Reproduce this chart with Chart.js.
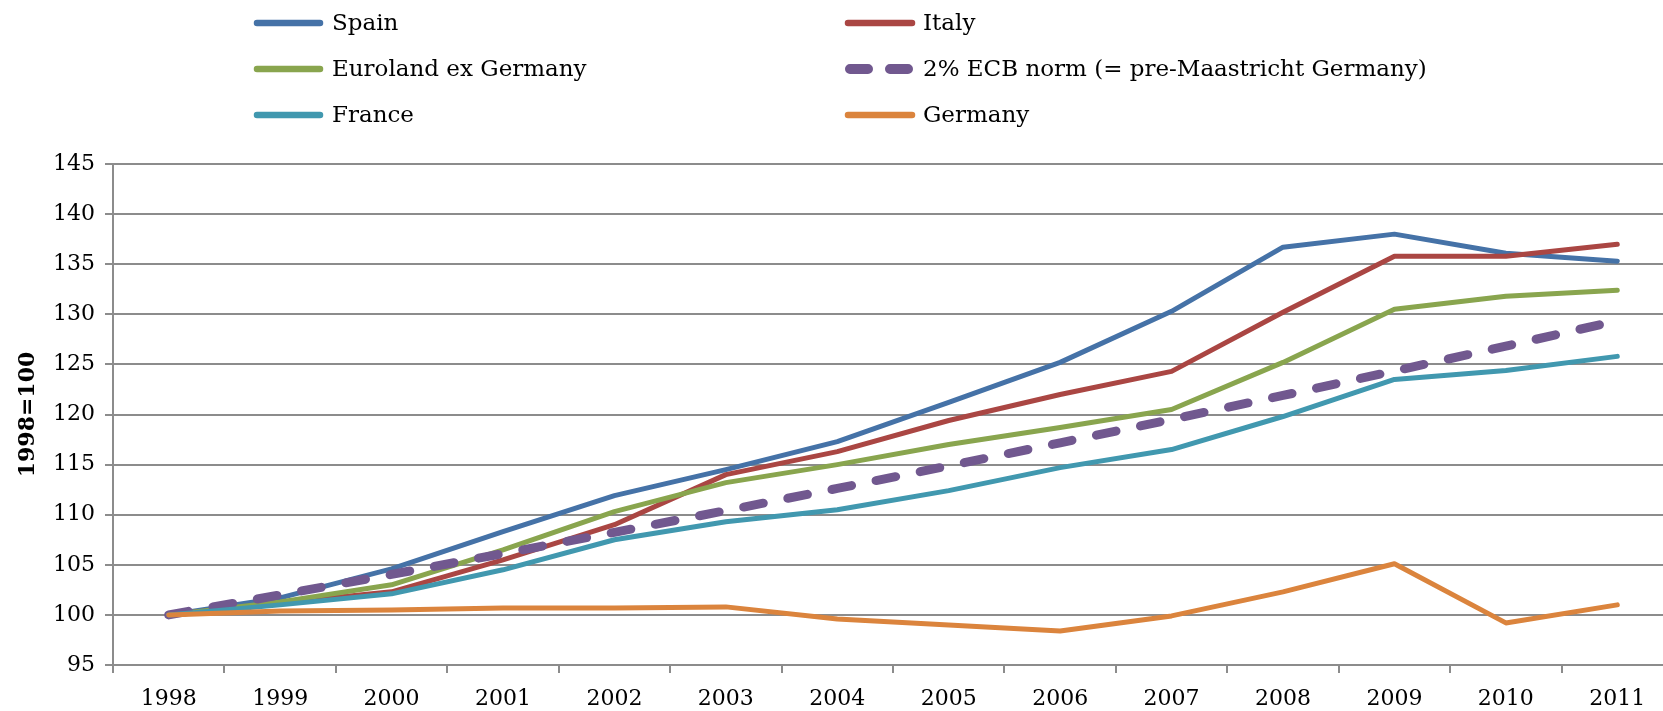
<!DOCTYPE html>
<html>
<head>
<meta charset="utf-8">
<script src="https://cdn.jsdelivr.net/npm/chart.js@4.4.1/dist/chart.umd.min.js"></script>
<style>
html, body { margin: 0; padding: 0; background: #fff; overflow: hidden; }
#wrap { width: 1680px; height: 711px; }
</style>
</head>
<body>
<div id="wrap"><canvas id="chartCanvas" width="1680" height="711"></canvas></div>
<script>
var years = ['1998','1999','2000','2001','2002','2003','2004','2005','2006','2007','2008','2009','2010','2011'];

var spain    = [100, 101.7, 104.6, 108.3, 111.9, 114.5, 117.3, 121.2, 125.2, 130.3, 136.7, 138.0, 136.1, 135.3];
var italy    = [100, 101.2, 102.3, 105.5, 109.0, 114.0, 116.3, 119.4, 122.0, 124.3, 130.2, 135.8, 135.8, 137.0];
var euroland = [100, 101.3, 103.0, 106.5, 110.3, 113.2, 115.0, 117.0, 118.7, 120.5, 125.2, 130.5, 131.8, 132.4];
var ecbNorm  = [100, 102.0, 104.04, 106.12, 108.24, 110.41, 112.62, 114.87, 117.17, 119.51, 121.9, 124.34, 126.82, 129.36];
var france   = [100, 101.0, 102.1, 104.5, 107.5, 109.3, 110.5, 112.4, 114.7, 116.5, 119.8, 123.5, 124.4, 125.8];
var germany  = [100, 100.4, 100.5, 100.7, 100.7, 100.8, 99.6, 99.0, 98.4, 99.9, 102.3, 105.1, 99.2, 101.0];

var seriesNames = ['Spain', 'Italy', 'Euroland ex Germany', '2% ECB norm (= pre-Maastricht Germany)', 'France', 'Germany'];
var seriesColors = ['#4572A7', '#AA4643', '#89A54E', '#71588F', '#4198AF', '#DB843D'];
var seriesData = [spain, italy, euroland, ecbNorm, france, germany];

var gridColor = '#8c8c8c';
var serif = "'DejaVu Serif', serif";

function makeDatasets(){
	return seriesData.map(function(vals, i){
		var dashed = (i === 3);
		return {
			label: seriesNames[i],
			data: vals,
			borderColor: seriesColors[i],
			backgroundColor: seriesColors[i],
			borderWidth: dashed ? 9 : 5,
			borderDash: dashed ? [20, 25] : [],
			borderCapStyle: 'round',
			borderJoinStyle: 'round',
			pointRadius: 0,
			tension: 0,
			fill: false,
			order: seriesData.length - i   // later series painted on top
		};
	});
}

// two-column legend above the plot
var legendPlugin = {
	id: 'twoColLegend',
	afterDraw: function(chart){
		var ctx = chart.ctx;
		var cols = [{sx: 254, ex: 323, tx: 332}, {sx: 845, ex: 915, tx: 923}];
		var rows = [23, 69, 115];
		ctx.save();
		chart.data.datasets.forEach(function(ds, i){
			var c = cols[i % 2], y = rows[Math.floor(i / 2)];
			ctx.strokeStyle = ds.borderColor;
			ctx.lineCap = 'round';
			ctx.beginPath();
			if (ds.borderDash.length) {
				ctx.lineWidth = 10;
				ctx.setLineDash([18, 22]);
				ctx.moveTo(c.sx + 5, y);
				ctx.lineTo(c.ex - 4, y);
			} else {
				ctx.lineWidth = 6.5;
				ctx.setLineDash([]);
				ctx.moveTo(c.sx + 3, y);
				ctx.lineTo(c.ex - 3, y);
			}
			ctx.stroke();
			ctx.setLineDash([]);
			ctx.fillStyle = '#000';
			ctx.font = '23px ' + serif;
			ctx.textBaseline = 'middle';
			ctx.textAlign = 'left';
			ctx.fillText(ds.label, c.tx, y + 1);
		});
		ctx.restore();
	}
};

function showChart(){
	var ctx = document.getElementById('chartCanvas').getContext('2d');
	new Chart(ctx, {
		type: 'line',
		data: { labels: years, datasets: makeDatasets() },
		options: {
			responsive: false,
			animation: false,
			layout: { padding: { top: 164, right: 7, bottom: 0, left: 0 } },
			plugins: { legend: { display: false }, tooltip: { enabled: false } },
			scales: {
				x: {
					offset: true,
					afterFit: function(scale){ scale.height = 46; },
					grid: { offset: true, drawOnChartArea: false, color: gridColor, lineWidth: 2, tickLength: 8 },
					border: { color: gridColor, width: 2 },
					ticks: { color: '#000', font: { family: serif, size: 22 }, padding: 13, maxRotation: 0, autoSkip: false }
				},
				y: {
					min: 95,
					max: 145,
					afterFit: function(scale){ scale.width = 113; },
					grid: { color: gridColor, lineWidth: 2, tickLength: 8 },
					border: { color: gridColor, width: 2 },
					ticks: { stepSize: 5, color: '#000', font: { family: serif, size: 22 }, padding: 10 },
					title: {
						display: true,
						text: '1998=100',
						color: '#000',
						font: { family: serif, size: 22, weight: 'bold' },
						padding: { top: 15, bottom: 0 }
					}
				}
			}
		},
		plugins: [legendPlugin]
	});
}

showChart();
</script>
</body>
</html>
